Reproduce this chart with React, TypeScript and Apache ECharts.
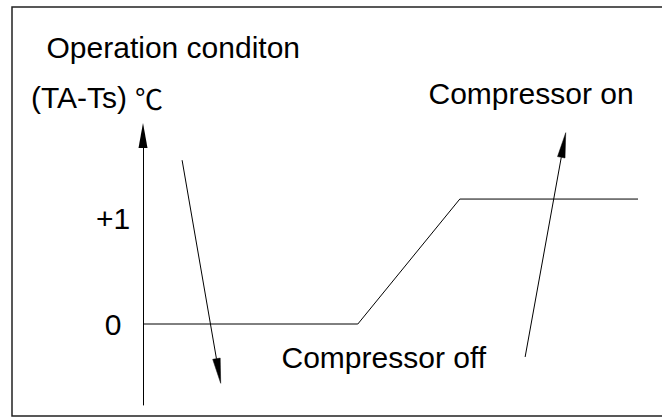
import React, { useEffect, useRef } from "react";
import * as echarts from "echarts";

// Curve of the operation condition (x is a relative time axis 0..100)
const curveX = [0, 43.4, 64, 100];
const curveY = [0, 0, 1.19, 1.19];

// Y tick labels
const yTicks = [0, 1];

// Annotation arrows: [x1, y1, x2, y2] in data units (tip at x2, y2)
const arrowDown = [7.9, 1.56, 15.7, -0.565];
const arrowUp = [77.2, -0.314, 85.4, 1.822];

// Texts
const titleText = "Operation conditon";
const unitText = "(TA-Ts)";
const unitSymbol = "℃";
const onText = "Compressor on";
const offText = "Compressor off";

const FONT = '"Liberation Sans", Arial, sans-serif';

export default function App() {
  const ref = useRef<HTMLDivElement>(null);
  useEffect(() => {
    if (!ref.current) return;
    const chart = echarts.init(ref.current, undefined, { renderer: "svg" });
    const arrows = [arrowDown, arrowUp];
    chart.setOption({
      animation: false,
      backgroundColor: "#ffffff",
      grid: { left: 143, right: 24, top: 135.5, bottom: 14 },
      xAxis: { type: "value", min: 0, max: 100, show: false },
      yAxis: {
        type: "value",
        min: -0.7714,
        max: 1.7952,
        splitLine: { show: false },
        axisTick: { show: false },
        axisLine: {
          show: true,
          lineStyle: { color: "#000", width: 1 },
          symbol: ["none", "triangle"],
          symbolSize: [9, 25],
        },
        axisLabel: {
          customValues: yTicks,
          formatter: (v: number) => (v > 0 ? "+" + v : String(v)),
          fontFamily: FONT,
          fontSize: 30,
          color: "#000",
          align: "center",
          margin: 30,
        },
      },
      series: [
        {
          type: "line",
          data: curveX.map((x, i) => [x, curveY[i]]),
          symbol: "none",
          lineStyle: { color: "#000", width: 1 },
          silent: true,
        },
        {
          type: "custom",
          data: arrows,
          encode: { x: [0, 2], y: [1, 3] },
          silent: true,
          renderItem: (params: any, api: any) => {
            const p1 = api.coord([api.value(0), api.value(1)]);
            const p2 = api.coord([api.value(2), api.value(3)]);
            const dx = p2[0] - p1[0];
            const dy = p2[1] - p1[1];
            const len = Math.sqrt(dx * dx + dy * dy);
            const ux = dx / len;
            const uy = dy / len;
            const headLen = 25;
            const headHalf = 3.8;
            const bx = p2[0] - ux * headLen;
            const by = p2[1] - uy * headLen;
            const nx = -uy;
            const ny = ux;
            return {
              type: "group",
              children: [
                {
                  type: "line",
                  shape: { x1: p1[0], y1: p1[1], x2: bx, y2: by },
                  style: { stroke: "#000", lineWidth: 1 },
                },
                {
                  type: "polygon",
                  shape: {
                    points: [
                      [p2[0], p2[1]],
                      [bx + nx * headHalf, by + ny * headHalf],
                      [bx - nx * headHalf, by - ny * headHalf],
                    ],
                  },
                  style: { fill: "#000", stroke: "#000", lineWidth: 0.5 },
                },
              ],
            };
          },
        },
      ],
      graphic: [
        {
          type: "rect",
          shape: { x: 12, y: 7, width: 700, height: 409 },
          style: { fill: "none", stroke: "#222", lineWidth: 1.5 },
          silent: true,
        },
        {
          type: "text",
          x: 46.5,
          y: 47,
          style: {
            text: titleText,
            font: `30px ${FONT}`,
            fill: "#000",
            align: "left",
            verticalAlign: "middle",
          },
        },
        {
          type: "text",
          x: 31,
          y: 97.5,
          style: {
            text: `{a|${unitText}}{b|${unitSymbol}}`,
            fill: "#000",
            align: "left",
            verticalAlign: "middle",
            rich: {
              a: { fontFamily: FONT, fontSize: 30, fill: "#000" },
              b: {
                fontFamily: '"Noto Sans CJK SC", "DejaVu Sans", sans-serif',
                fontSize: 28,
                fill: "#000",
                padding: [0, 0, 0, 8],
              },
            },
          },
        },
        {
          type: "text",
          x: 428.5,
          y: 93.5,
          style: {
            text: onText,
            font: `30px ${FONT}`,
            fill: "#000",
            align: "left",
            verticalAlign: "middle",
          },
        },
        {
          type: "text",
          x: 281.5,
          y: 357.5,
          style: {
            text: offText,
            font: `30px ${FONT}`,
            fill: "#000",
            align: "left",
            verticalAlign: "middle",
          },
        },
      ],
    });
    return () => chart.dispose();
  }, []);
  return (
    <div
      ref={ref}
      style={{ position: "fixed", left: 0, top: 0, width: 662, height: 419 }}
    />
  );
}
